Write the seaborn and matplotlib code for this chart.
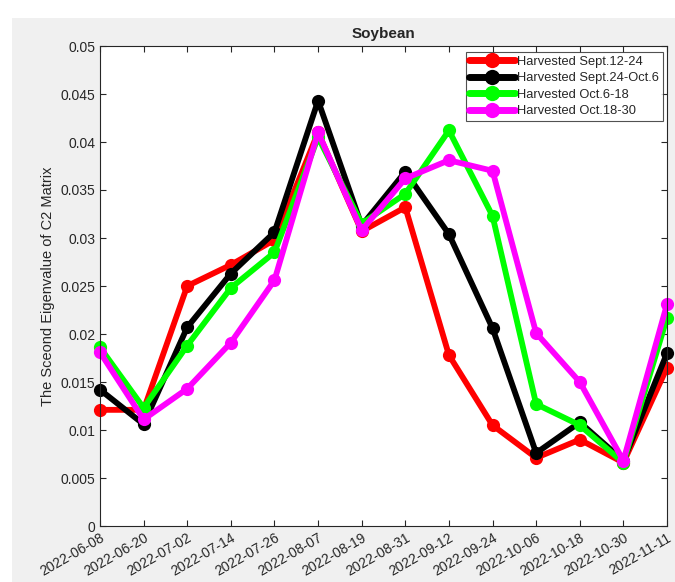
import pandas as pd
import numpy as np
import matplotlib
matplotlib.use('Agg')
import matplotlib.pyplot as plt
import seaborn as sns
from matplotlib.patches import Rectangle

dates = ['2022-06-08', '2022-06-20', '2022-07-02', '2022-07-14', '2022-07-26', '2022-08-07', '2022-08-19',
         '2022-08-31', '2022-09-12', '2022-09-24', '2022-10-06', '2022-10-18', '2022-10-30', '2022-11-11']

sept12_24 = [0.0121, 0.0121, 0.0250, 0.0272, 0.0298, 0.0410, 0.0307, 0.0332, 0.0178, 0.0105, 0.0071, 0.0090, 0.0066, 0.0165]
sept24_oct6 = [0.0142, 0.0106, 0.0207, 0.0263, 0.0306, 0.0443, 0.0313, 0.0369, 0.0304, 0.0206, 0.0076, 0.0108, 0.0068, 0.0180]
oct6_18 = [0.0186, 0.0123, 0.0188, 0.0248, 0.0285, 0.0405, 0.0315, 0.0346, 0.0412, 0.0323, 0.0127, 0.0105, 0.0066, 0.0217]
oct18_30 = [0.0181, 0.0111, 0.0143, 0.0191, 0.0256, 0.0410, 0.0308, 0.0362, 0.0381, 0.0370, 0.0201, 0.0150, 0.0068, 0.0231]

labels = ['Harvested Sept.12-24', 'Harvested Sept.24-Oct.6', 'Harvested Oct.6-18', 'Harvested Oct.18-30']
colors = ['#ff0000', '#000000', '#00ff00', '#ff00ff']

df = pd.DataFrame({'date': pd.to_datetime(dates * 4),
                   'value': sept12_24 + sept24_oct6 + oct6_18 + oct18_30,
                   'series': np.repeat(labels, len(dates))})

sns.set_style('ticks')
plt.rcParams['font.family'] = ['Liberation Sans', 'DejaVu Sans']

fig = plt.figure(figsize=(6.75, 5.82), dpi=100)
fig.patch.set_facecolor('white')
# grey matlab figure background (screenshot cropped a bit at top/left)
fig.patches.append(Rectangle((12 / 675, 0), 1, 1 - 18 / 582, transform=fig.transFigure,
                             facecolor='#f0f0f0', edgecolor='none', zorder=-10))
ax = fig.add_axes([100 / 675, 56 / 582, 567 / 675, 480 / 582])
ax.set_facecolor('white')

sns.lineplot(data=df, x='date', y='value', hue='series', palette=colors, marker='o',
             markersize=9.5, markeredgewidth=0, linewidth=4.2, ax=ax, clip_on=False)

ax.set_xlim(pd.Timestamp(dates[0]), pd.Timestamp(dates[-1]))
ax.set_ylim(0, 0.05)
ax.set_xticks(pd.to_datetime(dates))
ax.set_xticklabels(dates, rotation=30, ha='right', rotation_mode='anchor', fontsize=10)
ax.set_yticks(np.arange(0, 0.0501, 0.005))
ax.set_yticklabels(['0', '0.005', '0.01', '0.015', '0.02', '0.025', '0.03', '0.035', '0.04', '0.045', '0.05'], fontsize=10)
ax.tick_params(direction='in', top=True, right=True, length=4, width=0.8, colors='#262626')
for s in ax.spines.values():
    s.set_visible(True)
    s.set_linewidth(0.8)
    s.set_color('#262626')

ax.set_xlabel('')
ax.set_ylabel('The Sceond Eigenvalue of C2 Matrix', fontsize=10.5)
ax.set_title('Soybean', fontsize=11, fontweight='bold', pad=6)

leg = ax.legend(loc='upper right', bbox_to_anchor=(0.993, 0.988), fontsize=9.3, handlelength=3.5,
                frameon=True, fancybox=False, edgecolor='#262626', borderpad=0.3,
                labelspacing=0.35, handletextpad=0.2, borderaxespad=0.0)
leg.get_frame().set_linewidth(0.8)
for h in leg.get_lines():
    h.set_markersize(11)
    h.set_linewidth(5)

fig.savefig('out.png', dpi=100)
